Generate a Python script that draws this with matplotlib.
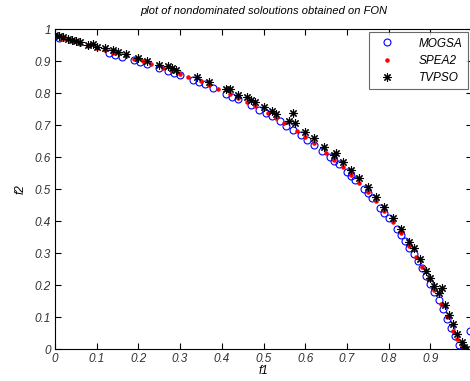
import matplotlib
matplotlib.use("Agg")
import matplotlib.pyplot as plt
from matplotlib.lines import Line2D

title = "plot of nondominated soloutions obtained on FON"
series_names = ["MOGSA", "SPEA2", "TVPSO"]

mogsa_f1 = [0.01, 0.13, 0.145, 0.16, 0.19, 0.205, 0.22, 0.25, 0.27, 0.285, 0.30, 0.33, 0.345,
            0.36, 0.38, 0.41, 0.425, 0.44, 0.47, 0.49, 0.505, 0.52, 0.54, 0.555, 0.57, 0.59,
            0.605, 0.62, 0.64, 0.66, 0.67, 0.68, 0.70, 0.71, 0.72, 0.74, 0.75, 0.76, 0.78,
            0.79, 0.80, 0.82, 0.83, 0.84, 0.85, 0.86, 0.87, 0.88, 0.89, 0.90, 0.91, 0.92,
            0.93, 0.94, 0.95, 0.96, 0.97, 0.98, 0.995]
mogsa_f2 = [0.972, 0.926, 0.920, 0.914, 0.903, 0.897, 0.891, 0.879, 0.870, 0.863, 0.856, 0.842,
            0.834, 0.827, 0.816, 0.798, 0.789, 0.780, 0.762, 0.747, 0.737, 0.727, 0.711, 0.698,
            0.685, 0.668, 0.654, 0.639, 0.620, 0.599, 0.588, 0.577, 0.553, 0.541, 0.528, 0.501,
            0.487, 0.473, 0.442, 0.426, 0.410, 0.376, 0.357, 0.337, 0.317, 0.296, 0.274, 0.252,
            0.228, 0.204, 0.179, 0.152, 0.124, 0.095, 0.066, 0.040, 0.014, 0.002, 0.055]

spea2_f1 = [0.00, 0.02, 0.04, 0.06, 0.08, 0.10, 0.12, 0.14, 0.17, 0.19, 0.21, 0.23, 0.26, 0.28,
            0.30, 0.32, 0.35, 0.37, 0.39, 0.42, 0.44, 0.46, 0.48, 0.51, 0.53, 0.55, 0.58, 0.60,
            0.62, 0.65, 0.67, 0.69, 0.71, 0.73, 0.75, 0.77, 0.79, 0.81, 0.83, 0.85, 0.865, 0.88,
            0.895, 0.91, 0.925, 0.94, 0.955, 0.965, 0.975]
spea2_f2 = [0.982, 0.968, 0.961, 0.953, 0.947, 0.940, 0.933, 0.926, 0.915, 0.907, 0.899, 0.891,
            0.878, 0.869, 0.860, 0.851, 0.836, 0.825, 0.814, 0.796, 0.784, 0.772, 0.759, 0.738,
            0.723, 0.706, 0.681, 0.663, 0.643, 0.614, 0.592, 0.569, 0.545, 0.519, 0.492, 0.462,
            0.430, 0.397, 0.361, 0.321, 0.289, 0.256, 0.220, 0.183, 0.142, 0.099, 0.056, 0.030,
            0.008]

tvpso_f1 = [0.00, 0.01, 0.02, 0.03, 0.04, 0.05, 0.06, 0.08, 0.09, 0.10, 0.12, 0.14, 0.15, 0.17,
            0.20, 0.22, 0.25, 0.27, 0.28, 0.29, 0.34, 0.37, 0.41, 0.42, 0.44, 0.46, 0.47, 0.48,
            0.50, 0.52, 0.53, 0.56, 0.57, 0.575, 0.60, 0.62, 0.645, 0.67, 0.675, 0.69, 0.71, 0.73,
            0.75, 0.77, 0.79, 0.81, 0.83, 0.85, 0.86, 0.875, 0.89, 0.90, 0.91, 0.92, 0.928, 0.935,
            0.945, 0.955, 0.965, 0.975, 0.98, 0.985]
tvpso_f2 = [0.982, 0.978, 0.975, 0.970, 0.966, 0.962, 0.958, 0.950, 0.952, 0.945, 0.940, 0.934,
            0.928, 0.921, 0.910, 0.900, 0.888, 0.884, 0.879, 0.871, 0.850, 0.834, 0.812, 0.811,
            0.795, 0.787, 0.779, 0.772, 0.756, 0.743, 0.735, 0.712, 0.738, 0.705, 0.678, 0.660,
            0.632, 0.605, 0.612, 0.584, 0.560, 0.535, 0.505, 0.474, 0.444, 0.410, 0.376, 0.335,
            0.315, 0.280, 0.245, 0.222, 0.196, 0.175, 0.190, 0.138, 0.105, 0.078, 0.048, 0.022,
            0.006, 0.000]

x_ticks = [0, 0.1, 0.2, 0.3, 0.4, 0.5, 0.6, 0.7, 0.8, 0.9, 1.0]
x_ticklabels = ["0", "0.1", "0.2", "0.3", "0.4", "0.5", "0.6", "0.7", "0.8", "0.9", ""]
y_ticks = [0, 0.1, 0.2, 0.3, 0.4, 0.5, 0.6, 0.7, 0.8, 0.9, 1.0]
y_ticklabels = ["0", "0.1", "0.2", "0.3", "0.4", "0.5", "0.6", "0.7", "0.8", "0.9", "1"]

plt.rcParams['font.family'] = ['Liberation Sans', 'DejaVu Sans']
plt.rcParams['font.style'] = 'italic'

fig = plt.figure(figsize=(4.70, 3.81), dpi=100)
ax = fig.add_axes([55/470, 32/381, 417/470, 320/381])

star = (8, 2, 0)
ax.plot(mogsa_f1, mogsa_f2, linestyle='none', marker='o', markersize=5,
        markerfacecolor='none', markeredgecolor='#0000ff', markeredgewidth=0.8)
ax.plot(spea2_f1, spea2_f2, linestyle='none', marker='.', markersize=4.5,
        color='#ff0000')
ax.plot(tvpso_f1, tvpso_f2, linestyle='none', marker=star, markersize=6,
        color='black', markeredgewidth=0.8)

ax.set_xlim(0, 1)
ax.set_ylim(0, 1)
ax.set_xticks(x_ticks)
ax.set_xticklabels(x_ticklabels)
ax.set_yticks(y_ticks)
ax.set_yticklabels(y_ticklabels)
ax.tick_params(direction='in', top=True, right=True, length=4, width=0.8,
               labelsize=8.5, labelcolor='#333333', pad=3)
for s in ax.spines.values():
    s.set_linewidth(0.8)

ax.set_title(title, fontsize=8, pad=11)
ax.set_xlabel("f1", fontsize=8.5, labelpad=0)
ax.set_ylabel("f2", fontsize=8.5, labelpad=6)

handles = [
    Line2D([], [], linestyle='none', marker='o', markersize=5, markerfacecolor='none',
           markeredgecolor='#0000ff', markeredgewidth=0.8),
    Line2D([], [], linestyle='none', marker='.', markersize=4.5, color='#ff0000'),
    Line2D([], [], linestyle='none', marker=star, markersize=6, color='black',
           markeredgewidth=0.8),
]
leg = ax.legend(handles, series_names, loc='upper right', bbox_to_anchor=(413/417, 0.99),
                fontsize=8.5, frameon=True, fancybox=False, edgecolor='#444444',
                borderpad=0.45, labelspacing=0.45, handletextpad=1.6, handlelength=2.2,
                borderaxespad=0)
leg.get_frame().set_linewidth(0.8)

fig.savefig("out.png", dpi=100)
